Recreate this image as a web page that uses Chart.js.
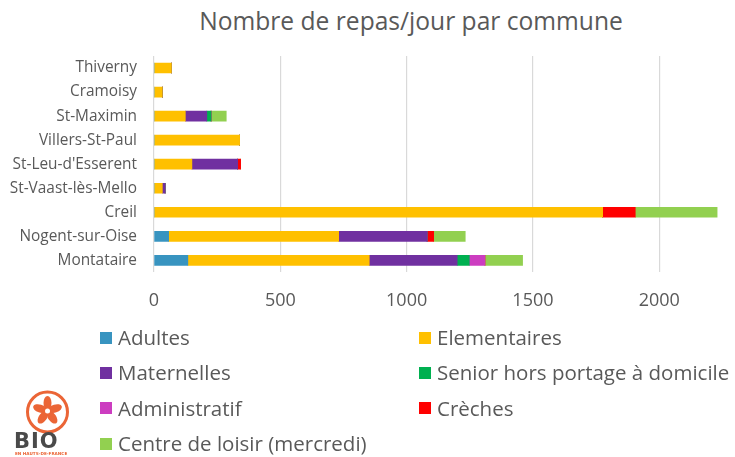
<!DOCTYPE html>
<html lang="fr">
<head>
<meta charset="utf-8">
<title>Nombre de repas/jour par commune</title>
<script src="https://cdn.jsdelivr.net/npm/chart.js@4/dist/chart.umd.min.js"></script>
<style>
    html, body { margin: 0; padding: 0; background: #fff; }
    body { width: 735px; height: 457px; position: relative; overflow: hidden; font-family: 'Open Sans', sans-serif; color: #595959; }
    #titre { position: absolute; top: 4px; left: 411px; transform: translateX(-50%); font-size: 24.6px; white-space: nowrap; }
    #graphique { position: absolute; left: 0; top: 0; }
    #legende { position: absolute; left: 100px; top: 324px; display: grid; grid-template-columns: 319px auto; row-gap: 8.4px; }
    .item { display: flex; align-items: center; font-size: 20.5px; line-height: 27px; white-space: nowrap; }
    .item span.boite { width: 12px; height: 12px; margin-right: 6px; display: inline-block; }
    #logo { position: absolute; left: 12px; top: 386px; }
</style>
</head>
<body>
<div id="titre">Nombre de repas/jour par commune</div>
<canvas id="graphique" width="735" height="457"></canvas>
<div id="legende"></div>
<svg id="logo" width="80" height="71" viewBox="0 0 80 71">
    <circle cx="35.5" cy="26" r="20" fill="none" stroke="#EB6536" stroke-width="3"/>
    <g fill="#EB6536" transform="translate(35.5,25)">
        <ellipse cx="0" cy="-8" rx="4" ry="7"/>
        <ellipse cx="0" cy="-8" rx="4" ry="7" transform="rotate(72)"/>
        <ellipse cx="0" cy="-8" rx="4" ry="7" transform="rotate(144)"/>
        <ellipse cx="0" cy="-8" rx="4" ry="7" transform="rotate(216)"/>
        <ellipse cx="0" cy="-8" rx="4" ry="7" transform="rotate(288)"/>
    </g>
    <circle cx="35.5" cy="25" r="2.5" fill="#fff"/>
    <text x="2" y="62" font-family="'DejaVu Sans', sans-serif" font-weight="bold" font-size="21" fill="#4A4A4A" letter-spacing="1">BIO</text>
    <text x="3" y="69" font-family="'DejaVu Sans', sans-serif" font-weight="bold" font-size="4.2" fill="#EB6536">EN HAUTS-DE-FRANCE</text>
</svg>

<script>
    // Communes, de haut en bas
    const communes = ['Thiverny', 'Cramoisy', 'St-Maximin', 'Villers-St-Paul', "St-Leu-d'Esserent",
        'St-Vaast-lès-Mello', 'Creil', 'Nogent-sur-Oise', 'Montataire'];

    // Repas par jour, par type de convive
    const adultes        = [0, 0, 0, 0, 0, 0, 0, 58, 134];
    const elementaires   = [69, 33, 124, 339, 150, 33, 1776, 673, 718];
    const maternelles    = [0, 0, 85, 0, 181, 11, 0, 350, 348];
    const senior         = [0, 0, 17, 0, 0, 0, 0, 0, 48];
    const administratif  = [0, 0, 0, 0, 0, 0, 0, 0, 62];
    const creches        = [0, 0, 0, 0, 12, 0, 129, 26, 0];
    const centreLoisir   = [0, 0, 60, 0, 0, 0, 324, 125, 149];

    const ticksX = [0, 500, 1000, 1500, 2000];

    const series = [
        { label: 'Adultes', data: adultes, color: '#3894C0' },
        { label: 'Elementaires', data: elementaires, color: '#FFC000' },
        { label: 'Maternelles', data: maternelles, color: '#7030A0' },
        { label: 'Senior hors portage à domicile', data: senior, color: '#00B050' },
        { label: 'Administratif', data: administratif, color: '#CC3DC0' },
        { label: 'Crèches', data: creches, color: '#FF0000' },
        { label: 'Centre de loisir (mercredi)', data: centreLoisir, color: '#92D050' }
    ];

    const gris = '#595959';

    const chart = new Chart(document.getElementById('graphique'), {
        type: 'bar',
        data: {
            labels: communes,
            datasets: series.map(s => ({
                label: s.label,
                data: s.data,
                backgroundColor: s.color,
                borderWidth: 0,
                barThickness: 10
            }))
        },
        options: {
            indexAxis: 'y',
            responsive: false,
            animation: false,
            layout: { padding: { top: 56, right: 5, bottom: 127, left: 0 } },
            plugins: {
                legend: { display: false },
                title: { display: false },
                tooltip: { enabled: false }
            },
            scales: {
                x: {
                    stacked: true,
                    min: 0,
                    max: 2280,
                    afterBuildTicks: scale => {
                        scale.ticks = ticksX.map(v => ({ value: v }));
                    },
                    grid: { color: '#D9D9D9', lineWidth: 1.2, drawTicks: false },
                    border: { display: false },
                    ticks: {
                        color: gris, padding: 18, font: { family: 'Open Sans', size: 18 },
                        callback: v => String(v)
                    }
                },
                y: {
                    stacked: true,
                    afterFit: scale => { scale.width = 154; },
                    grid: { display: false, drawTicks: false },
                    border: { display: false },
                    ticks: { color: gris, padding: 17, font: { family: 'Open Sans', size: 15.4 } }
                }
            }
        }
    });

    // Légende sur deux colonnes
    const legende = document.getElementById('legende');
    chart.data.datasets.forEach(ds => {
        const item = document.createElement('div');
        item.className = 'item';
        item.innerHTML = `<span class="boite" style="background:${ds.backgroundColor}"></span>${ds.label}`;
        legende.appendChild(item);
    });
</script>
</body>
</html>
